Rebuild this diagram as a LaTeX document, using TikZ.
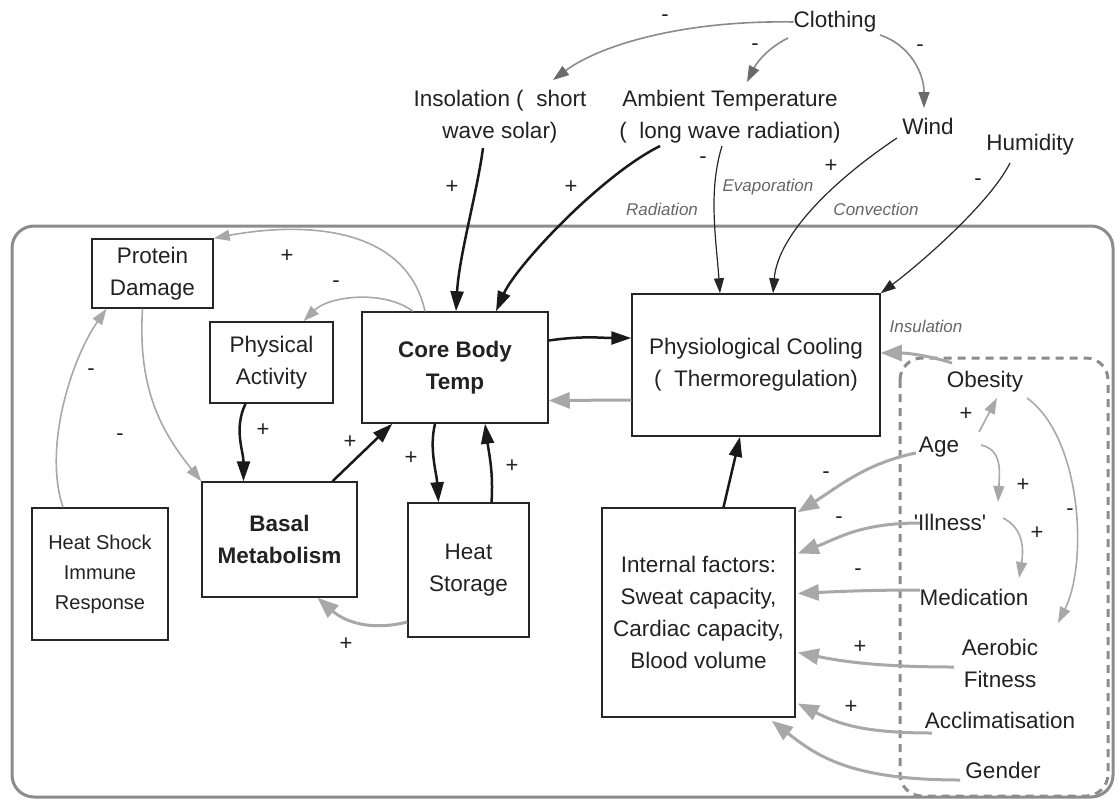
\documentclass[tikz,border=0pt]{standalone}
\usepackage{fontspec}
\setmainfont{Liberation Sans}
\newfontfamily\nq{Liberation Sans}
\usetikzlibrary{arrows.meta,calc}
\definecolor{gline}{HTML}{A8A8A8}
\definecolor{cline}{HTML}{8A8A8A}
\definecolor{chead}{HTML}{6A6A6A}
\definecolor{frame}{HTML}{8C8C8C}
\definecolor{txt}{HTML}{222222}
\definecolor{lbl}{HTML}{666666}
\tikzset{
  base/.style={font=\fontsize{22.5}{32}\selectfont, text=txt, align=center, inner sep=0pt},
  box/.style={base, draw=black!85, line width=1.5pt},
  bbox/.style={box, font=\fontsize{22.5}{32}\selectfont\bfseries},
  sbox/.style={box, font=\fontsize{20}{30}\selectfont},
  sign/.style={font=\fontsize{22}{22}\selectfont, text=txt, inner sep=0pt},
  lab/.style={font=\fontsize{17}{18}\selectfont\itshape, text=lbl, inner sep=0pt},
  blk/.style={line width=2.5pt, draw=black!90, -{Triangle[length=20pt,width=13pt]}},
  blkthin/.style={line width=1.2pt, draw=black!85, -{Triangle[length=15pt,width=10pt]}},
  gry/.style={line width=3pt, draw=gline, -{Triangle[length=21pt,width=16pt]}},
  grythin/.style={line width=1.6pt, draw=gline, -{Triangle[length=16pt,width=11pt]}},
  clo/.style={line width=1.6pt, draw=cline, -{Triangle[length=16pt,width=11pt,color=chead]}},
}
\begin{document}
\begin{tikzpicture}[x=1pt,y=-1pt]
\useasboundingbox (0,0) rectangle (1115,800);
% frames
\draw[frame, line width=3pt, rounded corners=22pt] (12,226) rectangle (1113,797);
\draw[frame, line width=3pt, dash pattern=on 8pt off 6pt, rounded corners=22pt] (900,358) rectangle (1108,796);

% environment nodes
\node[base] (clo) at (835,22) {Clothing};
\node[base] (ins) at (500,117) {Insolation (~~short\\wave solar)};
\node[base] (amb) at (730,117) {Ambient Temperature\\(~~long wave radiation)};
\node[base] (wind) at (928,126) {Wind};
\node[base] (hum) at (1030,145) {Humidity};

% boxes
\node[box, minimum width=121pt, minimum height=69pt] (prot) at (152.5,273.5) {Protein\\Damage};
\node[box, minimum width=123pt, minimum height=81pt] (phys) at (271.5,362.5) {Physical\\Activity};
\node[bbox, minimum width=186pt, minimum height=111pt] (core) at (455,367.5) {Core Body\\Temp};
\node[bbox, minimum width=155pt, minimum height=115pt] (basal) at (279.5,539.5) {Basal\\Metabolism};
\node[box, minimum width=121pt, minimum height=134pt] (hs) at (468.5,570) {Heat\\Storage};
\node[sbox, minimum width=136pt, minimum height=132pt] (hsir) at (100,574) {Heat Shock\\Immune\\Response};
\node[box, minimum width=248pt, minimum height=142pt] (pc) at (756,365) {Physiological Cooling\\(~~Thermoregulation)};
\node[box, minimum width=193pt, minimum height=209pt] (inf) at (698.5,612.5) {Internal factors:\\Sweat capacity,\\Cardiac capacity,\\Blood volume};

% individual factors
\node[base] (obe) at (985,382) {Obesity};
\node[base] (age) at (939,447) {Age};
\node[base] (ill) at (950,522) {{\nq'}Illness{\nq'}};
\node[base] (med) at (974,597) {Medication};
\node[base] (aer) at (1000,663) {Aerobic\\Fitness};
\node[base] (acc) at (1000,720) {Acclimatisation};
\node[base] (gen) at (1003,770) {Gender};

% clothing arrows
\draw[clo] (clo.west) .. controls +(-110,-2) and +(47,-35) .. ($(ins)+(53,-37)$);
\draw[clo] ($(clo)+(-47,16)$) .. controls +(-20,10) and +(10,-20) .. ($(amb)+(17,-35)$);
\draw[clo] ($(clo)+(45,13)$) .. controls +(30,10) and +(0,-35) .. ($(wind)+(-4,-18)$);

% environment to body
\draw[blk] ($(ins)+(-17,31)$) .. controls +(-6,45) and +(3,-55) .. ($(core.north)+(1,0)$);
\draw[blk] ($(amb)+(-70,29)$) .. controls +(-60,30) and +(20,-45) .. ($(core.north)+(41,0)$);
\draw[blkthin] ($(amb)+(-8,29)$) .. controls +(-14,45) and +(-4,-55) .. ($(pc.north)+(-36,0)$);
\draw[blkthin] ($(wind)+(-31,12)$) .. controls +(-60,40) and +(5,-60) .. ($(pc.north)+(17,0)$);
\draw[blkthin] ($(hum)+(-20,18)$) .. controls +(-20,40) and +(40,-30) .. (pc.north east);

% core loop
\draw[blk] ($(core.east)+(0,-27)$) .. controls +(35,-5) and +(-30,0) .. ($(pc.west)+(0,-27)$);
\draw[gry] ($(pc.west)+(0,35)$) -- ($(core.east)+(0,33)$);
\draw[blk] ($(inf.north)+(25,0)$) -- ($(pc.south)+(-16,0)$);
\draw[grythin] ($(core.north)+(-30,0)$) .. controls +(-20,-90) and +(80,-15) .. (prot.north east);
\draw[grythin] ($(core.north)+(-42,0)$) .. controls +(-30,-22) and +(25,-25) .. ($(phys.north)+(32,0)$);
\draw[blk] ($(phys.south)+(-26,0)$) .. controls +(-12,25) and +(0,-30) .. ($(basal.north)+(-36,0)$);
\draw[blk] ($(basal.north)+(53,0)$) -- ($(core.south west)+(31,0)$);
\draw[blk] ($(core.south)+(-20,0)$) .. controls +(-6,25) and +(-2,-30) .. ($(hs.north)+(-30,0)$);
\draw[blk] ($(hs.north)+(23,0)$) .. controls +(2,-30) and +(4,30) .. ($(core.south)+(30,0)$);
\draw[gry] ($(hs.west)+(0,52)$) .. controls +(-40,10) and +(25,22) .. ($(basal.south)+(38,0)$);
\draw[grythin] ($(hsir.north)+(-37,0)$) .. controls +(-20,-60) and +(-35,50) .. ($(prot.south)+(-46,0)$);
\draw[grythin] ($(prot.south)+(-10,0)$) .. controls +(-5,80) and +(-40,-50) .. (basal.north west);

% individual factors
\draw[gry] ($(obe)+(-33,-19)$) .. controls +(-25,-8) and +(25,0) .. ($(pc.east)+(0,-12)$);
\draw[grythin] ($(age)+(40,-15)$) -- ($(obe)+(12,16)$);
\draw[grythin] ($(age)+(42,-2)$) .. controls +(20,5) and +(2,-35) .. ($(ill)+(48,-20)$);
\draw[grythin] ($(ill)+(53,-4)$) .. controls +(20,10) and +(5,-30) .. ($(med)+(45,-19)$);
\draw[grythin] ($(obe)+(42,16)$) .. controls +(55,40) and +(30,-60) .. ($(aer)+(58,-40)$);
\draw[gry] ($(age)+(-23,6)$) .. controls +(-50,10) and +(40,-25) .. ($(inf.north east)+(2,5)$);
\draw[gry] ($(ill)+(-30,1)$) .. controls +(-60,0) and +(40,-15) .. ($(inf.east)+(2,-59)$);
\draw[gry] ($(med)+(-54,-7)$) .. controls +(-50,0) and +(40,-2) .. ($(inf.east)+(2,-19)$);
\draw[gry] ($(aer)+(-46,4)$) .. controls +(-80,0) and +(40,8) .. ($(inf.east)+(2,40)$);
\draw[gry] ($(acc)+(-68,13)$) .. controls +(-70,0) and +(40,20) .. ($(inf.east)+(2,91)$);
\draw[gry] ($(gen)+(-43,10)$) .. controls +(-110,0) and +(45,35) .. ($(inf.south east)+(-24,3)$);

% signs
\node[sign] (s1) at (665,18) {-};
\node[sign] (s2) at (755,47) {-};
\node[sign] (s3) at (920,48) {-};
\node[sign] (s4) at (452,187) {+};
\node[sign] (s5) at (571,187) {+};
\node[sign] (s6) at (703,160) {-};
\node[sign] (s7) at (831,166) {+};
\node[sign] (s8) at (978,182) {-};
\node[sign] (s9) at (287,256) {+};
\node[sign] (s10) at (336,284) {-};
\node[sign] (s11) at (263,430) {+};
\node[sign] (s12) at (350,442) {+};
\node[sign] (s13) at (411,458) {+};
\node[sign] (s14) at (512,466) {+};
\node[sign] (s15) at (346,644) {+};
\node[sign] (s16) at (91,372) {-};
\node[sign] (s17) at (120,437) {-};
\node[sign] (s18) at (966,414) {+};
\node[sign] (s19) at (1023,485) {+};
\node[sign] (s20) at (1037,533) {+};
\node[sign] (s21) at (1070,512) {-};
\node[sign] (s22) at (826,475) {-};
\node[sign] (s23) at (839,520) {-};
\node[sign] (s24) at (858,572) {-};
\node[sign] (s25) at (860,647) {+};
\node[sign] (s26) at (851,707) {+};

% mechanism labels
\node[lab] (lrad) at (662,209) {Radiation};
\node[lab] (leva) at (768,187) {Evaporation};
\node[lab] (lcon) at (876,209) {Convection};
\node[lab] (lins) at (926,326) {Insulation};
\end{tikzpicture}
\end{document}
